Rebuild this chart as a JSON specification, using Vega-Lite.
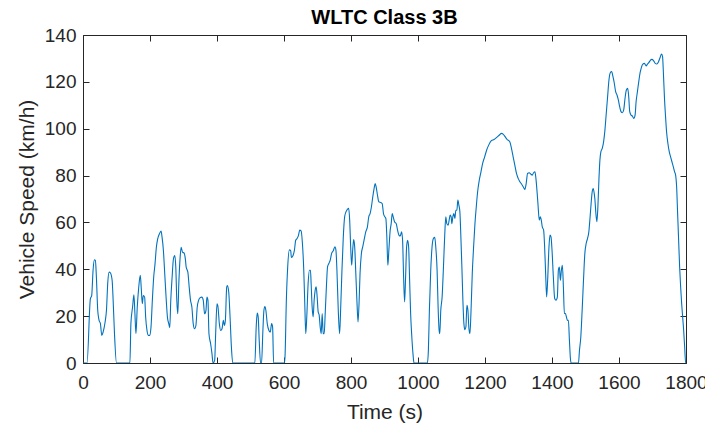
{
  "$schema": "https://vega.github.io/schema/vega-lite/v6.json",
  "width": 603,
  "height": 328,
  "autosize": {"type": "none"},
  "padding": {"left": 83, "top": 35, "right": 19, "bottom": 61},
  "background": "white",
  "title": {"text": "WLTC Class 3B", "fontSize": 20, "fontWeight": "bold", "font": "Liberation Sans", "color": "#000000", "offset": -2, "anchor": "middle"},
  "config": {"view": {"stroke": null}},
  "data": {"values": [
    {"t":0,"v":0},{"t":12,"v":0},{"t":22,"v":27.4},{"t":26,"v":28.8},{"t":30,"v":39.5},{"t":34,"v":44},{"t":37,"v":43.8},{"t":40,"v":36.6},{"t":44,"v":22.4},{"t":48,"v":18.2},{"t":52,"v":16.8},{"t":56,"v":11.8},{"t":60,"v":13.2},{"t":66,"v":17.5},{"t":70,"v":22.4},{"t":74,"v":34.5},{"t":78,"v":38.8},{"t":82,"v":38.4},{"t":87,"v":35.2},{"t":90,"v":26.7},{"t":94,"v":12.5},{"t":100,"v":0},{"t":140,"v":0},{"t":143,"v":16.8},{"t":148,"v":23.9},{"t":152,"v":29.1},{"t":155,"v":21},{"t":158,"v":12.5},{"t":162,"v":23.9},{"t":166,"v":31.7},{"t":171,"v":37.4},{"t":174,"v":31.7},{"t":177,"v":25.3},{"t":180,"v":28.8},{"t":184,"v":28.1},{"t":187,"v":19.6},{"t":191,"v":13.9},{"t":195,"v":11.8},{"t":199,"v":11.8},{"t":203,"v":15.3},{"t":207,"v":26.7},{"t":211,"v":36.6},{"t":215,"v":42.3},{"t":219,"v":49.4},{"t":223,"v":53},{"t":228,"v":55.1},{"t":233,"v":56.3},{"t":236,"v":53.7},{"t":240,"v":48},{"t":244,"v":38.1},{"t":248,"v":28.1},{"t":252,"v":19.6},{"t":256,"v":16.8},{"t":259,"v":15.1},{"t":262,"v":26.7},{"t":266,"v":36.6},{"t":270,"v":44.5},{"t":274,"v":45.9},{"t":277,"v":40.9},{"t":280,"v":26.7},{"t":283,"v":21},{"t":286,"v":33.8},{"t":290,"v":45.2},{"t":293,"v":49.4},{"t":297,"v":47.3},{"t":302,"v":46.9},{"t":306,"v":43.8},
    {"t":308,"v":40.9},{"t":313,"v":38.8},{"t":317,"v":32.4},{"t":321,"v":26.7},{"t":325,"v":23.9},{"t":329,"v":16.8},{"t":333,"v":14.6},{"t":337,"v":16},{"t":341,"v":23.9},{"t":345,"v":26.7},{"t":349,"v":27.8},{"t":355,"v":28.1},{"t":359,"v":26.7},{"t":363,"v":21},{"t":367,"v":22.4},{"t":370,"v":28.1},{"t":373,"v":26.7},{"t":376,"v":12.5},{"t":381,"v":8.2},{"t":385,"v":4},{"t":388,"v":0},{"t":393,"v":1.1},{"t":396,"v":12.5},{"t":400,"v":25.3},{"t":403,"v":23.9},{"t":407,"v":16.8},{"t":411,"v":13.9},{"t":415,"v":14.6},{"t":419,"v":18.2},{"t":422,"v":16},{"t":425,"v":18.2},{"t":429,"v":32.4},{"t":431,"v":33.1},{"t":435,"v":30.3},{"t":439,"v":19.6},{"t":443,"v":6.8},{"t":447,"v":0},{"t":513,"v":0},{"t":517,"v":15.3},{"t":520,"v":21.3},{"t":523,"v":19.6},{"t":526,"v":9.7},{"t":530,"v":0},{"t":533,"v":0},{"t":537,"v":13.9},{"t":540,"v":22.4},{"t":543,"v":24.1},{"t":546,"v":22.4},{"t":550,"v":16.8},{"t":555,"v":13.9},{"t":559,"v":13.2},{"t":563,"v":16.8},{"t":566,"v":15.3},{"t":569,"v":0},{"t":601,"v":0},{"t":603,"v":2.6},{"t":607,"v":26.7},{"t":611,"v":40.9},{"t":616,"v":48.3},{"t":620,"v":48},
    {"t":622,"v":45},{"t":627,"v":45.9},{"t":631,"v":48.1},{"t":635,"v":52.4},{"t":639,"v":53.1},{"t":643,"v":54.4},{"t":647,"v":56.7},{"t":651,"v":56.4},{"t":655,"v":51},{"t":659,"v":39.6},{"t":662,"v":25.4},{"t":665,"v":12.5},{"t":668,"v":19.7},{"t":672,"v":33.9},{"t":676,"v":39.6},{"t":679,"v":39.6},{"t":681,"v":33.9},{"t":684,"v":23.9},{"t":687,"v":19.7},{"t":690,"v":26.8},{"t":693,"v":31},{"t":696,"v":32.5},{"t":699,"v":28.2},{"t":702,"v":21.8},{"t":705,"v":20.4},{"t":708,"v":15.4},{"t":711,"v":12.5},{"t":714,"v":21.1},{"t":717,"v":12.5},{"t":720,"v":12.5},{"t":723,"v":21.1},{"t":727,"v":33.9},{"t":730,"v":41},{"t":734,"v":42.5},{"t":738,"v":43.9},{"t":742,"v":46.7},{"t":747,"v":47.9},{"t":752,"v":49.6},{"t":755,"v":48.2},{"t":758,"v":39.6},{"t":762,"v":22.5},{"t":766,"v":12.5},{"t":769,"v":22.5},{"t":773,"v":39.6},{"t":777,"v":53.8},{"t":781,"v":62.4},{"t":785,"v":64.5},{"t":789,"v":65.5},{"t":793,"v":66},{"t":796,"v":61.1},{"t":799,"v":49.6},{"t":802,"v":41.7},{"t":805,"v":48.1},{"t":808,"v":52.7},{"t":811,"v":49.6},{"t":814,"v":39.6},{"t":818,"v":25.4},{"t":821,"v":17.5},{"t":824,"v":25.4},{"t":827,"v":38.2},{"t":831,"v":46.7},{"t":835,"v":49.6},{"t":839,"v":52.4},{"t":844,"v":56},{"t":849,"v":58.1},{"t":853,"v":62.4},{"t":857,"v":63.8},{"t":861,"v":66.7},{"t":865,"v":70.9},{"t":869,"v":74.5},{"t":872,"v":76.6},{"t":875,"v":75.2},{"t":879,"v":71.7},{"t":883,"v":68.8},{"t":889,"v":68.5},{"t":893,"v":68.1},{"t":897,"v":63.8},{"t":901,"v":62.4},{"t":904,"v":61.7},{"t":907,"v":53.8},{"t":910,"v":41.7},{"t":913,"v":48.1},{"t":917,"v":56.7},{"t":920,"v":59.5},{"t":923,"v":63.8},{"t":926,"v":62.4},{"t":930,"v":60.3},
    {"t":935,"v":59.5},{"t":939,"v":56.7},{"t":943,"v":54.6},{"t":947,"v":54.2},{"t":951,"v":56},{"t":954,"v":52.4},{"t":957,"v":36.8},{"t":960,"v":26.1},{"t":963,"v":36.8},{"t":966,"v":49.6},{"t":969,"v":52.4},{"t":972,"v":49.6},{"t":975,"v":35.3},{"t":978,"v":21.1},{"t":981,"v":12.5},{"t":985,"v":4},{"t":988,"v":0},{"t":1028,"v":0},{"t":1031,"v":5.4},{"t":1034,"v":22.5},{"t":1038,"v":39.6},{"t":1042,"v":49.6},{"t":1046,"v":53.1},{"t":1050,"v":53.6},{"t":1053,"v":49.6},{"t":1057,"v":39.6},{"t":1060,"v":23.9},{"t":1063,"v":14},{"t":1065,"v":12.5},{"t":1068,"v":22.5},{"t":1072,"v":28.2},{"t":1076,"v":41},{"t":1080,"v":55.3},{"t":1083,"v":62.4},{"t":1086,"v":59.5},{"t":1090,"v":58.8},{"t":1093,"v":61},{"t":1096,"v":63.1},{"t":1099,"v":62.4},{"t":1101,"v":59.5},{"t":1104,"v":62.4},{"t":1107,"v":63.8},{"t":1110,"v":61.7},{"t":1113,"v":65.2},{"t":1116,"v":65.2},{"t":1119,"v":69.5},{"t":1122,"v":67.4},{"t":1125,"v":64.5},{"t":1128,"v":53.8},{"t":1131,"v":41},{"t":1134,"v":26.8},{"t":1137,"v":16.8},{"t":1140,"v":14.2},{"t":1143,"v":15.4},{"t":1146,"v":24.6},{"t":1149,"v":22.5},{"t":1152,"v":14.7},{"t":1155,"v":12.5},{"t":1158,"v":21.1},{"t":1162,"v":38.2},{"t":1166,"v":49.6},{"t":1170,"v":59.5},{"t":1174,"v":66.7},{"t":1178,"v":73.1},{"t":1183,"v":78.1},{"t":1188,"v":81.6},{"t":1193,"v":85.2},{"t":1199,"v":88},{"t":1205,"v":90.9},{"t":1211,"v":93},{"t":1219,"v":94.9},{"t":1227,"v":95.4},{"t":1235,"v":96.3},{"t":1243,"v":97.3},{"t":1249,"v":98},
    {"t":1254,"v":97.7},{"t":1260,"v":96.6},{"t":1266,"v":95.4},{"t":1274,"v":94.4},{"t":1279,"v":91.6},{"t":1284,"v":88},{"t":1289,"v":84.5},{"t":1294,"v":80.9},{"t":1299,"v":78.8},{"t":1304,"v":77.4},{"t":1309,"v":76.4},{"t":1314,"v":75.2},{"t":1319,"v":74.1},{"t":1323,"v":76.7},{"t":1327,"v":80.9},{"t":1332,"v":81.2},{"t":1337,"v":80.6},{"t":1341,"v":80.2},{"t":1345,"v":81.2},{"t":1349,"v":81.6},{"t":1352,"v":78.8},{"t":1355,"v":73.8},{"t":1358,"v":68.1},{"t":1362,"v":61},{"t":1365,"v":62.4},{"t":1368,"v":61},{"t":1371,"v":58.1},{"t":1375,"v":56.7},{"t":1378,"v":49.6},{"t":1381,"v":38.2},{"t":1384,"v":28.2},{"t":1387,"v":35.3},{"t":1391,"v":49.6},{"t":1394,"v":54.6},{"t":1397,"v":53.8},{"t":1400,"v":48.3},{"t":1404,"v":36.8},{"t":1408,"v":27.5},{"t":1412,"v":26.8},{"t":1416,"v":28.2},{"t":1419,"v":39.6},{"t":1422,"v":41},{"t":1425,"v":35.3},{"t":1428,"v":39.6},{"t":1431,"v":41.7},{"t":1434,"v":32.5},{"t":1437,"v":21.1},{"t":1440,"v":21.1},{"t":1443,"v":19.7},{"t":1446,"v":18.2},{"t":1449,"v":18.2},{"t":1452,"v":9.7},{"t":1455,"v":1.8},{"t":1457,"v":0},{"t":1479,"v":0},{"t":1482,"v":5.4},{"t":1486,"v":11.1},{"t":1490,"v":22.5},{"t":1494,"v":35.3},{"t":1498,"v":46.7},{"t":1502,"v":51},{"t":1506,"v":53.1},{"t":1510,"v":56},{"t":1513,"v":61},{"t":1516,"v":66.7},{"t":1520,"v":73.1},{"t":1523,"v":74.5},{"t":1526,"v":72.4},
    {"t":1528,"v":70},{"t":1531,"v":63.8},{"t":1534,"v":60.3},{"t":1537,"v":66.7},{"t":1540,"v":78},{"t":1543,"v":86.6},{"t":1546,"v":90.2},{"t":1550,"v":91.6},{"t":1554,"v":94.4},{"t":1558,"v":99.4},{"t":1562,"v":106.6},{"t":1566,"v":113.7},{"t":1570,"v":120.8},{"t":1574,"v":123.9},{"t":1578,"v":124.4},{"t":1582,"v":122.2},{"t":1586,"v":119.4},{"t":1590,"v":115.8},{"t":1594,"v":114.4},{"t":1598,"v":112.3},{"t":1602,"v":109.4},{"t":1606,"v":107.3},{"t":1610,"v":106.8},{"t":1614,"v":108},{"t":1618,"v":113},{"t":1622,"v":116.5},{"t":1626,"v":117.2},{"t":1629,"v":113.7},{"t":1632,"v":107.3},{"t":1636,"v":105.8},{"t":1640,"v":105.4},{"t":1644,"v":104.4},{"t":1648,"v":105.8},{"t":1651,"v":111.5},{"t":1655,"v":115.8},{"t":1659,"v":120.1},{"t":1663,"v":123.9},{"t":1667,"v":126.2},{"t":1671,"v":127.6},{"t":1676,"v":127.9},{"t":1681,"v":126.8},{"t":1685,"v":127.6},{"t":1689,"v":128.2},{"t":1693,"v":129.1},{"t":1698,"v":129.6},{"t":1703,"v":129.1},{"t":1708,"v":127.9},{"t":1713,"v":127.6},{"t":1718,"v":128.6},{"t":1723,"v":130.5},{"t":1727,"v":131.9},{"t":1730,"v":130.8},{"t":1733,"v":122.2},{"t":1736,"v":112.3},{"t":1739,"v":105.1},{"t":1742,"v":98.7},{"t":1746,"v":93.7},{"t":1750,"v":90.2},{"t":1754,"v":88},{"t":1758,"v":85.9},{"t":1762,"v":83.8},{"t":1766,"v":81.6},{"t":1769,"v":80.2},{"t":1772,"v":75.2},{"t":1775,"v":63.8},{"t":1778,"v":52.4},{"t":1781,"v":41},{"t":1784,"v":32.5},{"t":1787,"v":25.4},{"t":1790,"v":19.7},{"t":1793,"v":14},{"t":1796,"v":6.8},{"t":1799,"v":0},{"t":1800,"v":0}
  ]},
  "layer": [
    {
      "mark": {"type": "line", "color": "#0072BD", "strokeWidth": 1.1, "interpolate": "monotone", "clip": true},
      "encoding": {
        "x": {"field": "t", "type": "quantitative", "scale": {"domain": [0, 1800], "nice": false, "zero": false},
          "axis": {"orient": "bottom", "values": [0,200,400,600,800,1000,1200,1400,1600,1800], "format": "d", "title": "Time (s)", "grid": false,
            "tickSize": -6, "tickColor": "#262626", "domainColor": "#262626", "labelColor": "#262626", "labelFont": "Liberation Sans", "labelFontSize": 19,
            "labelPadding": 16, "labelFlush": false, "labelOverlap": false, "labelBound": false,
            "titleFont": "Liberation Sans", "titleFontSize": 21, "titleFontWeight": "normal", "titleColor": "#262626", "titlePadding": 9}},
        "y": {"field": "v", "type": "quantitative", "scale": {"domain": [0, 140], "nice": false},
          "axis": {"orient": "left", "values": [0,20,40,60,80,100,120,140], "format": "d", "title": "Vehicle Speed (km/h)", "grid": false,
            "tickSize": -6, "tickColor": "#262626", "domainColor": "#262626", "labelColor": "#262626", "labelFont": "Liberation Sans", "labelFontSize": 19,
            "labelPadding": 13, "labelFlush": false, "labelOverlap": false, "labelBound": false,
            "titleFont": "Liberation Sans", "titleFontSize": 21, "titleFontWeight": "normal", "titleColor": "#262626", "titlePadding": 7}}
      }
    },
    {
      "mark": {"type": "line", "opacity": 0},
      "encoding": {
        "x": {"field": "t", "type": "quantitative",
          "axis": {"orient": "top", "values": [0,200,400,600,800,1000,1200,1400,1600,1800], "title": null, "labels": false, "grid": false,
            "tickSize": -6, "tickColor": "#262626", "domainColor": "#262626"}},
        "y": {"field": "v", "type": "quantitative",
          "axis": {"orient": "right", "values": [0,20,40,60,80,100,120,140], "title": null, "labels": false, "grid": false,
            "tickSize": -6, "tickColor": "#262626", "domainColor": "#262626"}}
      }
    }
  ],
  "resolve": {"axis": {"x": "independent", "y": "independent"}}
}
